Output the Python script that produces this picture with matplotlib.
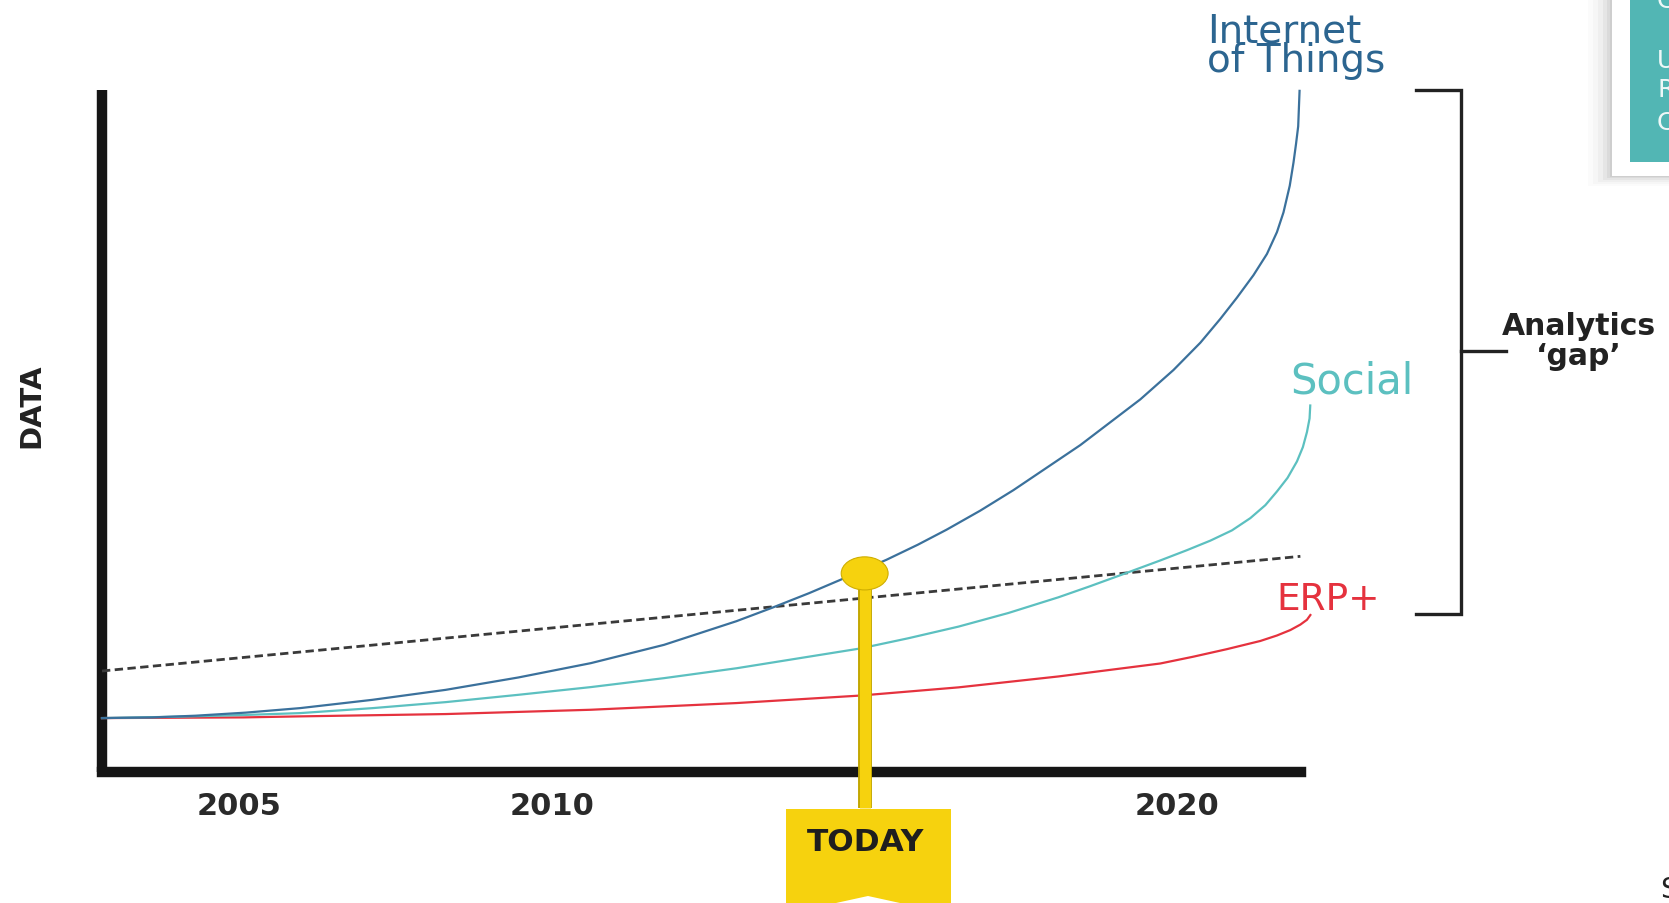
import matplotlib
matplotlib.use("Agg")
import matplotlib.pyplot as plt
from matplotlib.patches import Ellipse, Polygon, Rectangle
import matplotlib.patheffects as pe

# ---------------- data ----------------
iot_years = [2002.8, 2003.6, 2004.3, 2005.1, 2005.97, 2007.13, 2008.3, 2009.46, 2010.62,
             2011.79, 2012.95, 2013.53, 2014.11, 2014.7, 2015.35, 2015.85, 2016.31, 2016.85,
             2017.38, 2018.45, 2019.41, 2019.94, 2020.37, 2020.69, 2020.955, 2021.22,
             2021.435, 2021.595, 2021.70, 2021.80, 2021.86, 2021.90, 2021.935, 2021.957]
iot_vals = [7.9, 8.0, 8.25, 8.7, 9.36, 10.58, 12.04, 13.85, 15.95,
            18.63, 22.1, 24.1, 26.2, 28.5, 31.1, 33.3, 35.5, 38.3,
            41.3, 47.9, 54.6, 58.9, 62.9, 66.4, 69.5, 72.8,
            75.9, 79.1, 82.0, 85.9, 89.3, 92.0, 94.6, 99.8]

social_years = [2002.8, 2004.0, 2005.06, 2005.97, 2007.13, 2008.3, 2009.46, 2010.62,
                2011.79, 2012.95, 2014.11, 2014.93, 2015.7, 2016.5, 2017.3, 2018.1,
                2018.6, 2019.11, 2019.73, 2020.155, 2020.53, 2020.875, 2021.17, 2021.41,
                2021.595, 2021.765, 2021.915, 2022.01, 2022.075, 2022.117, 2022.128]
social_vals = [7.9, 8.1, 8.35, 8.63, 9.36, 10.24, 11.31, 12.44,
               13.75, 15.2, 16.9, 18.1, 19.6, 21.3, 23.3, 25.6,
               27.2, 28.9, 31.0, 32.5, 33.9, 35.4, 37.2, 39.1,
               41.1, 43.1, 45.5, 47.6, 49.8, 51.8, 53.7]

erp_years = [2002.8, 2005.06, 2005.97, 2008.3, 2010.62, 2012.95, 2014.93, 2016.5, 2018.1,
             2019.73, 2020.26, 2020.795, 2021.33, 2021.595, 2021.81, 2021.97, 2022.075,
             2022.13]
erp_vals = [7.9, 8.0, 8.15, 8.49, 9.12, 10.1, 11.2, 12.4, 14.0,
            15.9, 16.9, 18.0, 19.2, 20.0, 20.8, 21.6, 22.3,
            23.0]

capacity_years = [2002.8, 2021.97]
capacity_vals = [14.8, 31.6]

tick_years = [2005, 2010, 2020]
tick_labels = ["2005", "2010", "2020"]

today_year = 2015
today_value = 29.1

# ---------------- styling ----------------
W, H = 1669, 904
IOT_C = "#3b719c"
IOT_TXT = "#2c6590"
SOC_C = "#5cc0c0"
ERP_C = "#e5323e"
YEL = "#f6d20e"
DARK = "#151515"


def fx(px):
    return px / W


def fy(py):
    return 1 - py / H


fig = plt.figure(figsize=(W / 100, H / 100), dpi=100)
fig.patch.set_facecolor("white")

ax = fig.add_axes([fx(102), fy(773), fx(1301) - fx(102), fy(90.5) - fy(773)])
ax.set_facecolor("none")
ax.set_xlim(2002.8, 2021.98)
ax.set_ylim(0, 100)
for s in ["top", "right"]:
    ax.spines[s].set_visible(False)
for s in ["left", "bottom"]:
    ax.spines[s].set_linewidth(7.5)
    ax.spines[s].set_color(DARK)
ax.spines["left"].set_capstyle("butt")
ax.spines["bottom"].set_capstyle("projecting")
ax.set_yticks([])
ax.set_xticks(tick_years)
ax.set_xticklabels(tick_labels)
ax.tick_params(axis="x", length=0, pad=14, labelsize=22, labelcolor="#2a2a2a")
for lab in ax.get_xticklabels():
    lab.set_fontweight("bold")
    lab.set_family("DejaVu Sans")

# lines
ax.plot(capacity_years, capacity_vals, color="#3a3a3a", lw=2.0,
        linestyle=(0, (3, 1.6)), clip_on=False, zorder=3)
ax.plot(erp_years, erp_vals, color=ERP_C, lw=1.6, clip_on=False, zorder=4,
        solid_joinstyle="round")
ax.plot(social_years, social_vals, color=SOC_C, lw=1.6, clip_on=False, zorder=4,
        solid_joinstyle="round")
ax.plot(iot_years, iot_vals, color=IOT_C, lw=1.6, clip_on=False, zorder=4,
        solid_joinstyle="round")

# TODAY pole + dot
ax.plot([today_year, today_year], [today_value, -5.3], color=YEL, lw=8,
        solid_capstyle="butt", clip_on=False, zorder=10,
        path_effects=[pe.Stroke(linewidth=10, foreground="#c2a600"), pe.Normal()])
dot = Ellipse((today_year, today_value), width=0.75, height=4.85, facecolor=YEL,
              edgecolor="#cfae00", lw=0.8, zorder=11, clip_on=False)
ax.add_patch(dot)

# TODAY flag
flag = Polygon([(fx(786), fy(810)), (fx(951), fy(810)), (fx(951), fy(906)),
                (fx(900), fy(904)), (fx(868), fy(897)), (fx(836), fy(904)),
                (fx(786), fy(906))],
               closed=True, transform=fig.transFigure, facecolor=YEL,
               edgecolor="none", zorder=5)
fig.patches.append(flag)
fig.text(fx(866), fy(851.5), "TODAY", ha="center", va="baseline", fontsize=22.5,
         fontweight="bold", color="#1e1e1e", family="DejaVu Sans", zorder=6)

# y label
fig.text(fx(31), fy(406), "DATA", rotation=90, ha="center", va="center",
         fontsize=21, fontweight="bold", color="#222222",
         family=["Liberation Sans Narrow", "DejaVu Sans"])

# series labels
fig.text(fx(1207), fy(12.5), "Internet\nof Things", ha="left", va="top", fontsize=28,
         linespacing=0.71, color=IOT_TXT, family="DejaVu Sans")
fig.text(fx(1290), fy(393), "Social", ha="left", va="baseline", fontsize=30,
         color=SOC_C, family="DejaVu Sans")
fig.text(fx(1276), fy(610), "ERP+", ha="left", va="baseline", fontsize=27,
         color=ERP_C, family="DejaVu Sans")

# bracket
bx = [fx(1415.6), fx(1460.5), fx(1460.5), fx(1415.6)]
by = [fy(90.5), fy(90.5), fy(615), fy(615)]
fig.add_artist(plt.Line2D(bx, by, transform=fig.transFigure, color="#222222",
                          lw=2.4, solid_joinstyle="miter"))
fig.add_artist(plt.Line2D([fx(1460.5), fx(1506)], [fy(352), fy(352)],
                          transform=fig.transFigure, color="#222222", lw=2.4))
fig.text(fx(1579), fy(335), "Analytics", ha="center", va="baseline", fontsize=21.5,
         fontweight="bold", color="#222222", family="DejaVu Sans")
fig.text(fx(1579), fy(365), "\u2018gap\u2019", ha="center", va="baseline", fontsize=21.5,
         fontweight="bold", color="#222222", family="DejaVu Sans")

# teal box (partially visible) with soft shadow
for off, a in [(24, 0.025), (19, 0.035), (14, 0.05), (9, 0.07), (5, 0.09), (2, 0.1)]:
    fig.patches.append(Rectangle((fx(1612 - off), fy(177 + off * 0.4)),
                                 fx(1700) - fx(1612 - off), fy(-20) - fy(177 + off * 0.4),
                                 transform=fig.transFigure, facecolor="#6e6e6e",
                                 alpha=a, edgecolor="none", zorder=1))
fig.patches.append(Rectangle((fx(1612), fy(177)), fx(1700) - fx(1612), fy(-20) - fy(177),
                             transform=fig.transFigure, facecolor="white",
                             edgecolor="none", zorder=2))
fig.patches.append(Rectangle((fx(1630), fy(163)), fx(1700) - fx(1630), fy(-20) - fy(163),
                             transform=fig.transFigure, facecolor="#52b6b4",
                             edgecolor="none", zorder=3))
for ch, yb in [("C", 8), ("U", 68), ("R", 97), ("C", 130)]:
    fig.text(fx(1657), fy(yb), ch, ha="left", va="baseline", fontsize=18,
             color="#eef8f8", family="DejaVu Sans", zorder=4)

fig.text(fx(1660), fy(898), "S", ha="left", va="baseline", fontsize=20,
         color="#222222", family="DejaVu Sans")

fig.savefig("out.png", dpi=100, facecolor="white")
